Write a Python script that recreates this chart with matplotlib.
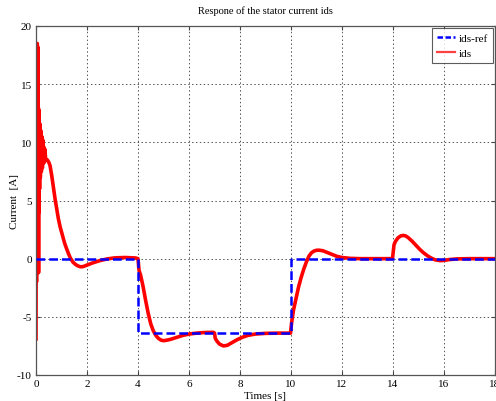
import matplotlib
matplotlib.use("Agg")
import matplotlib.pyplot as plt
from matplotlib.lines import Line2D

# reference current ids-ref
ref_t = [0.0, 4.0, 4.0, 10.0, 10.0, 18.0]
ref_v = [0.0, 0.0, -6.4, -6.4, 0.0, 0.0]

ids_t = [0.00, 0.01, 0.02, 0.03, 0.04, 0.05, 0.06, 0.07, 0.08, 0.09,
         0.10, 0.11, 0.12, 0.13, 0.14, 0.15, 0.17, 0.19, 0.21, 0.23,
         0.25, 0.27, 0.29, 0.31, 0.33, 0.35, 0.38, 0.44,
         0.50, 0.55, 0.62, 0.70, 0.75, 0.82, 0.88, 0.95, 1.05, 1.12,
         1.20, 1.28, 1.35, 1.45, 1.55, 1.65, 1.75, 1.85, 2.00, 2.20,
         2.50, 2.80, 3.10, 3.50, 3.90, 4.00,
         4.04, 4.10, 4.20, 4.30, 4.40, 4.50, 4.60, 4.70, 4.80, 4.90,
         5.00, 5.15, 5.30, 5.50, 5.75, 6.00, 6.30, 6.60, 6.95, 7.00,
         7.03, 7.10, 7.20, 7.35, 7.50, 7.70, 7.90, 8.10, 8.30, 8.60,
         9.00, 9.50, 9.98,
         10.03, 10.10, 10.20, 10.30, 10.40, 10.50, 10.60, 10.70, 10.80, 10.90,
         11.00, 11.10, 11.25, 11.40, 11.60, 11.80, 12.00, 12.30, 12.70, 13.30,
         13.98,
         14.04, 14.10, 14.20, 14.30, 14.40, 14.50, 14.60, 14.75, 14.90, 15.05,
         15.20, 15.35, 15.50, 15.65, 15.85, 16.00, 16.20, 16.50, 17.00, 18.00]
ids_v = [-6.9, 5.0, -2.0, 17.0, 2.0, 18.5, 6.0, 18.2, 3.0, 13.0,
         -1.2, 12.8, 4.0, 11.5, 6.0, 11.6, 7.0, 11.0, 7.5, 10.5,
         7.8, 10.2, 8.2, 9.6, 8.3, 9.4, 8.5, 8.5,
         8.3, 8.0, 7.1, 5.9, 5.1, 4.2, 3.4, 2.7, 1.9, 1.35,
         0.85, 0.4, 0.05, -0.3, -0.5, -0.63, -0.7, -0.68, -0.55, -0.38,
         -0.17, -0.02, 0.07, 0.1, 0.06, 0.0,
         -1.0, -1.4, -2.4, -3.6, -4.7, -5.6, -6.2, -6.6, -6.85, -7.0,
         -7.05, -7.0, -6.92, -6.78, -6.6, -6.48, -6.4, -6.35, -6.33, -6.4,
         -6.85, -7.1, -7.35, -7.5, -7.45, -7.2, -6.95, -6.75, -6.6, -6.48,
         -6.42, -6.4, -6.4,
         -5.4, -4.4, -3.4, -2.4, -1.6, -0.9, -0.3, 0.2, 0.5, 0.65,
         0.72, 0.73, 0.68, 0.55, 0.38, 0.2, 0.1, 0.03, 0.0, 0.0,
         0.0,
         1.2, 1.5, 1.8, 1.95, 2.0, 1.95, 1.8, 1.5, 1.15, 0.8,
         0.5, 0.25, 0.05, -0.1, -0.17, -0.15, -0.08, -0.02, 0.0, 0.0]

xticks = [0, 2, 4, 6, 8, 10, 12, 14, 16, 18]
yticks = [-10, -5, 0, 5, 10, 15, 20]

plt.rcParams['font.family'] = ['Liberation Serif', 'DejaVu Serif']
plt.rcParams['axes.unicode_minus'] = False
fig = plt.figure(figsize=(4.96, 4.02), dpi=100)
ax = fig.add_axes([36/496, 26/402, 459/496, 349/402])

ax.plot(ids_t, ids_v, color='#ff0000', lw=2.6, zorder=2, solid_joinstyle='round')
ax.plot(ref_t, ref_v, color='#0000ff', lw=1.8, ls=(0, (3.5, 1.6)), zorder=3)

ax.set_xlim(0, 18)
ax.set_ylim(-10, 20)
ax.set_xticks(xticks)
ax.set_yticks(yticks)
ax.tick_params(direction='in', length=3, labelsize=8, top=True, right=True, pad=3, color='#444444')
ax.grid(True, ls=(0, (1.5, 2.5)), color='#555555', lw=0.7)
for s in ax.spines.values():
    s.set_color('#555555')
    s.set_linewidth(0.9)

ax.set_title('Respone of the stator current ids', fontsize=7.5, pad=9)
ax.set_xlabel('Times [s]', fontsize=8, labelpad=2)
ax.set_ylabel('Current  [A]', fontsize=8)
ax.yaxis.set_label_coords(-0.036, 0.5)

handles = [Line2D([], [], color='#0000ff', lw=1.8, ls=(0, (2.2, 1.0))),
           Line2D([], [], color='#ff4040', lw=1.6)]
leg = ax.legend(handles, ['ids-ref', 'ids'], loc='upper right',
                prop={'size': 8}, frameon=True, fancybox=False,
                edgecolor='#333333', handlelength=1.6, handletextpad=0.3,
                borderpad=0.45, labelspacing=0.45, borderaxespad=0.2)
leg.get_frame().set_linewidth(0.8)

fig.savefig('out.png', dpi=100)
